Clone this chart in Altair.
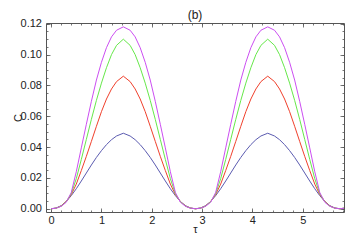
import altair as alt
import pandas as pd

# Half-period readings (tau from 0 to the peak), mirrored for the full curve
half_t = [0.0, 0.1, 0.2, 0.3, 0.4, 0.5, 0.6, 0.7, 0.8, 0.9, 1.0, 1.1, 1.2, 1.3, 1.435]
blue = [0, .0005, .0020, .0047, .0085, .0130, .0180, .0232, .0284, .0333, .0377, .0416, .0448, .0472, .0490]
red = [0, .0004, .0018, .0047, .0092, .0160, .0248, .0340, .0437, .0535, .0630, .0712, .0777, .0825, .0860]
green = [0, .0004, .0017, .0045, .0098, .0195, .0320, .0450, .0580, .0703, .0815, .0915, .1000, .1060, .1100]
magenta = [0, .0004, .0016, .0042, .0105, .0240, .0395, .0548, .0697, .0835, .0950, .1045, .1115, .1158, .1180]
period = 2.87
panel_label = ["(b)"]

series_names = ["s1", "s2", "s3", "s4"]
series_vals = [blue, red, green, magenta]
colors = ["#5b5bb0", "#f0402c", "#66e84a", "#cc4ef2"]

x_major = [0, 1, 2, 3, 4, 5]
y_major = [0.0, 0.02, 0.04, 0.06, 0.08, 0.10, 0.12]

rows = []
for name, vals in zip(series_names, series_vals):
    pts = []
    for k in range(3):
        base = k * period
        for t, v in zip(half_t, vals):
            pts.append((base + t, v))
        for t, v in zip(reversed(half_t[:-1]), reversed(vals[:-1])):
            pts.append((base + period - t, v))
    seen = set()
    for t, v in pts:
        key = round(t, 4)
        if key in seen or t > 5.9:
            continue
        seen.add(key)
        rows.append({"t": t, "C": v, "series": name})
df = pd.DataFrame(rows)

x_minor = [round(i * 0.2, 2) for i in range(0, 30)]
y_minor = [round(i * 0.005, 3) for i in range(0, 25)]

FONT = "Liberation Sans"
TC = "#555555"
W, H = 298, 189
xs = alt.Scale(domain=[-0.102, 5.821], nice=False, zero=False)
ys = alt.Scale(domain=[-0.0021, 0.1205], nice=False, zero=False)
cs = alt.Scale(domain=series_names, range=colors)

def ax(orient, values, size, labels=False, **kw):
    return alt.Axis(orient=orient, values=values, offset=-size, tickSize=size,
                    domain=False, grid=False, labels=labels, tickColor=TC,
                    tickWidth=0.8, **kw)

base = alt.Chart(df)

lines = base.mark_line(strokeWidth=1, clip=True).encode(
    x=alt.X("t:Q", scale=xs, axis=ax("bottom", x_major, 4, labels=True,
            labelFont=FONT, labelFontSize=11, labelColor="#222", labelPadding=2,
            title="τ", titleFont=FONT, titleFontSize=11, titleFontWeight="normal",
            titleColor="#222", titleY=24, titleBaseline="alphabetic")),
    y=alt.Y("C:Q", scale=ys, axis=ax("left", y_major, 4, labels=True,
            format=".2f", labelFont=FONT, labelFontSize=11, labelColor="#222",
            labelPadding=4.5, title="C", titleFont=FONT, titleFontSize=11,
            titleFontWeight="normal", titleColor="#222",
            titleX=-32, titleBaseline="middle")),
    color=alt.Color("series:N", scale=cs, legend=None),
)

minor_bl = base.mark_line(opacity=0).encode(
    x=alt.X("t:Q", scale=xs, axis=ax("bottom", x_minor, 2, title=None)),
    y=alt.Y("C:Q", scale=ys, axis=ax("left", y_minor, 2, title=None)),
    detail="series:N",
)
major_tr = base.mark_line(opacity=0).encode(
    x=alt.X("t:Q", scale=xs, axis=ax("top", x_major, 4, title=None)),
    y=alt.Y("C:Q", scale=ys, axis=ax("right", y_major, 4, title=None)),
    detail="series:N",
)
minor_tr = base.mark_line(opacity=0).encode(
    x=alt.X("t:Q", scale=xs, axis=ax("top", x_minor, 2, title=None)),
    y=alt.Y("C:Q", scale=ys, axis=ax("right", y_minor, 2, title=None)),
    detail="series:N",
)

title_txt = alt.Chart(pd.DataFrame({"label": panel_label})).mark_text(
    font=FONT, fontSize=12, color="#222", align="center", baseline="middle"
).encode(text="label:N", x=alt.value(W / 2), y=alt.value(-8))

chart = alt.layer(lines, minor_bl, major_tr, minor_tr, title_txt).resolve_scale(
    x="shared", y="shared"
).resolve_axis(x="independent", y="independent").properties(
    width=W, height=H,
    autosize=alt.AutoSizeParams(type="none"),
    padding={"left": 38, "right": 2, "top": 15, "bottom": 22},
).configure_view(stroke="#555555", strokeWidth=1)

chart.save("out.html", embed_options={"renderer": "svg", "actions": False})
